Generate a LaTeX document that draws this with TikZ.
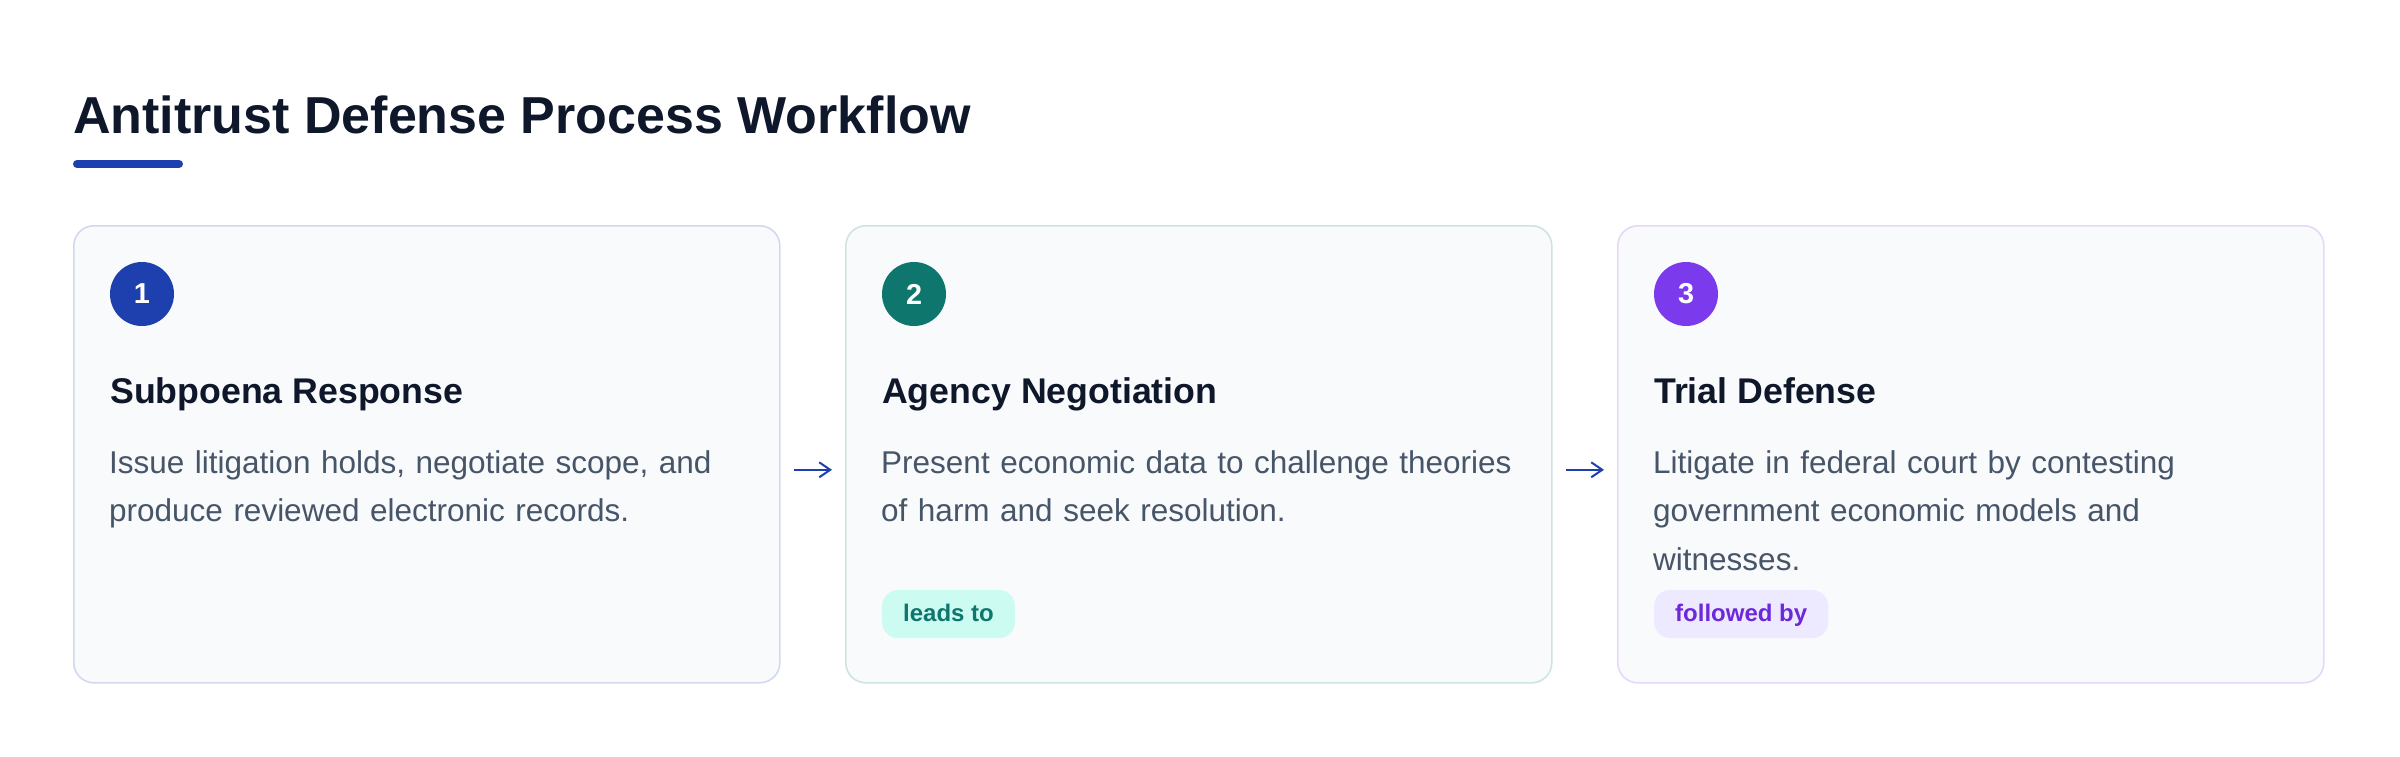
\documentclass[tikz,border=0pt]{standalone}
\usepackage{fontspec}
\setmainfont{Liberation Sans}
\usetikzlibrary{arrows.meta}
\definecolor{ink}{HTML}{0F172A}
\definecolor{slatetext}{HTML}{475569}
\definecolor{cardbg}{HTML}{F8FAFC}
\definecolor{stepblue}{HTML}{1E40AF}
\definecolor{stepteal}{HTML}{0F766E}
\definecolor{steppurple}{HTML}{7C3AED}
\definecolor{tealbg}{HTML}{CCFBF1}
\definecolor{purplebg}{HTML}{EDE9FE}
\definecolor{purpletext}{HTML}{6D28D9}

\begin{document}
\begin{tikzpicture}[x=1pt, y=-1pt,
    card/.style={draw, line width=1.6pt, fill=cardbg, rounded corners=20pt, minimum width=706pt, minimum height=457pt, anchor=north west, inner sep=0pt},
    num/.style={circle, minimum size=64pt, inner sep=0pt, text=white, font=\fontsize{28.8}{30}\bfseries\selectfont},
    head/.style={anchor=base west, inner sep=0pt, text=ink, font=\fontsize{35.7}{40}\bfseries\selectfont},
    body/.style={anchor=base west, inner sep=0pt, text width=660pt, align=left, text=slatetext, font=\fontsize{31.5}{48.6}\selectfont},
    tag/.style={anchor=base west, rounded corners=16pt, inner xsep=21pt, inner ysep=0pt, text height=31pt, text depth=17pt, font=\fontsize{24}{26}\bfseries\selectfont},
    flow/.style={draw=stepblue, line width=2pt, -{Straight Barb[length=11pt, width=15pt]}, shorten <=13pt, shorten >=13pt}]
    \fill [white] (0,0) rectangle (2400,756);
    \node [anchor=base west, inner sep=0pt, text=ink, font=\fontsize{52}{60}\bfseries\selectfont] (title) at (73,133.3) {Antitrust Defense Process Workflow};
    \draw [stepblue, line width=8pt, line cap=round] (77,164) -- (179,164);
    \node [card, draw=stepblue!20!white] (card1) at (73,225) {};
    \node [num, fill=stepblue] (num1) at (142,294) {1};
    \node [head] (head1) at (110,403) {Subpoena Response};
    \node [body] (body1) at (109,473) {Issue litigation holds, negotiate scope, and\\produce reviewed electronic records.};
    \begin{scope}[xshift=772pt]
      \node [card, draw=stepteal!20!white] (card2) at (73,225) {};
      \node [num, fill=stepteal] (num2) at (142,294) {2};
      \node [head] (head2) at (110,403) {Agency Negotiation};
      \node [body] (body2) at (109,473) {Present economic data to challenge theories\\of harm and seek resolution.};
      \node [tag, fill=tealbg, text=stepteal] (tag2) at (110,621) {leads to};
    \end{scope}
    \begin{scope}[xshift=1544pt]
      \node [card, draw=steppurple!20!white] (card3) at (73,225) {};
      \node [num, fill=steppurple] (num3) at (142,294) {3};
      \node [head] (head3) at (110,403) {Trial Defense};
      \node [body] (body3) at (109,473) {Litigate in federal court by contesting\\government economic models and\\witnesses.};
      \node [tag, fill=purplebg, text=purpletext] (tag3) at (110,621) {followed by};
    \end{scope}
    \draw [flow] ([yshift=-15.5pt]card1.east) -- ([yshift=-15.5pt]card2.west);
    \draw [flow] ([yshift=-15.5pt]card2.east) -- ([yshift=-15.5pt]card3.west);
  \end{tikzpicture}
\end{document}
